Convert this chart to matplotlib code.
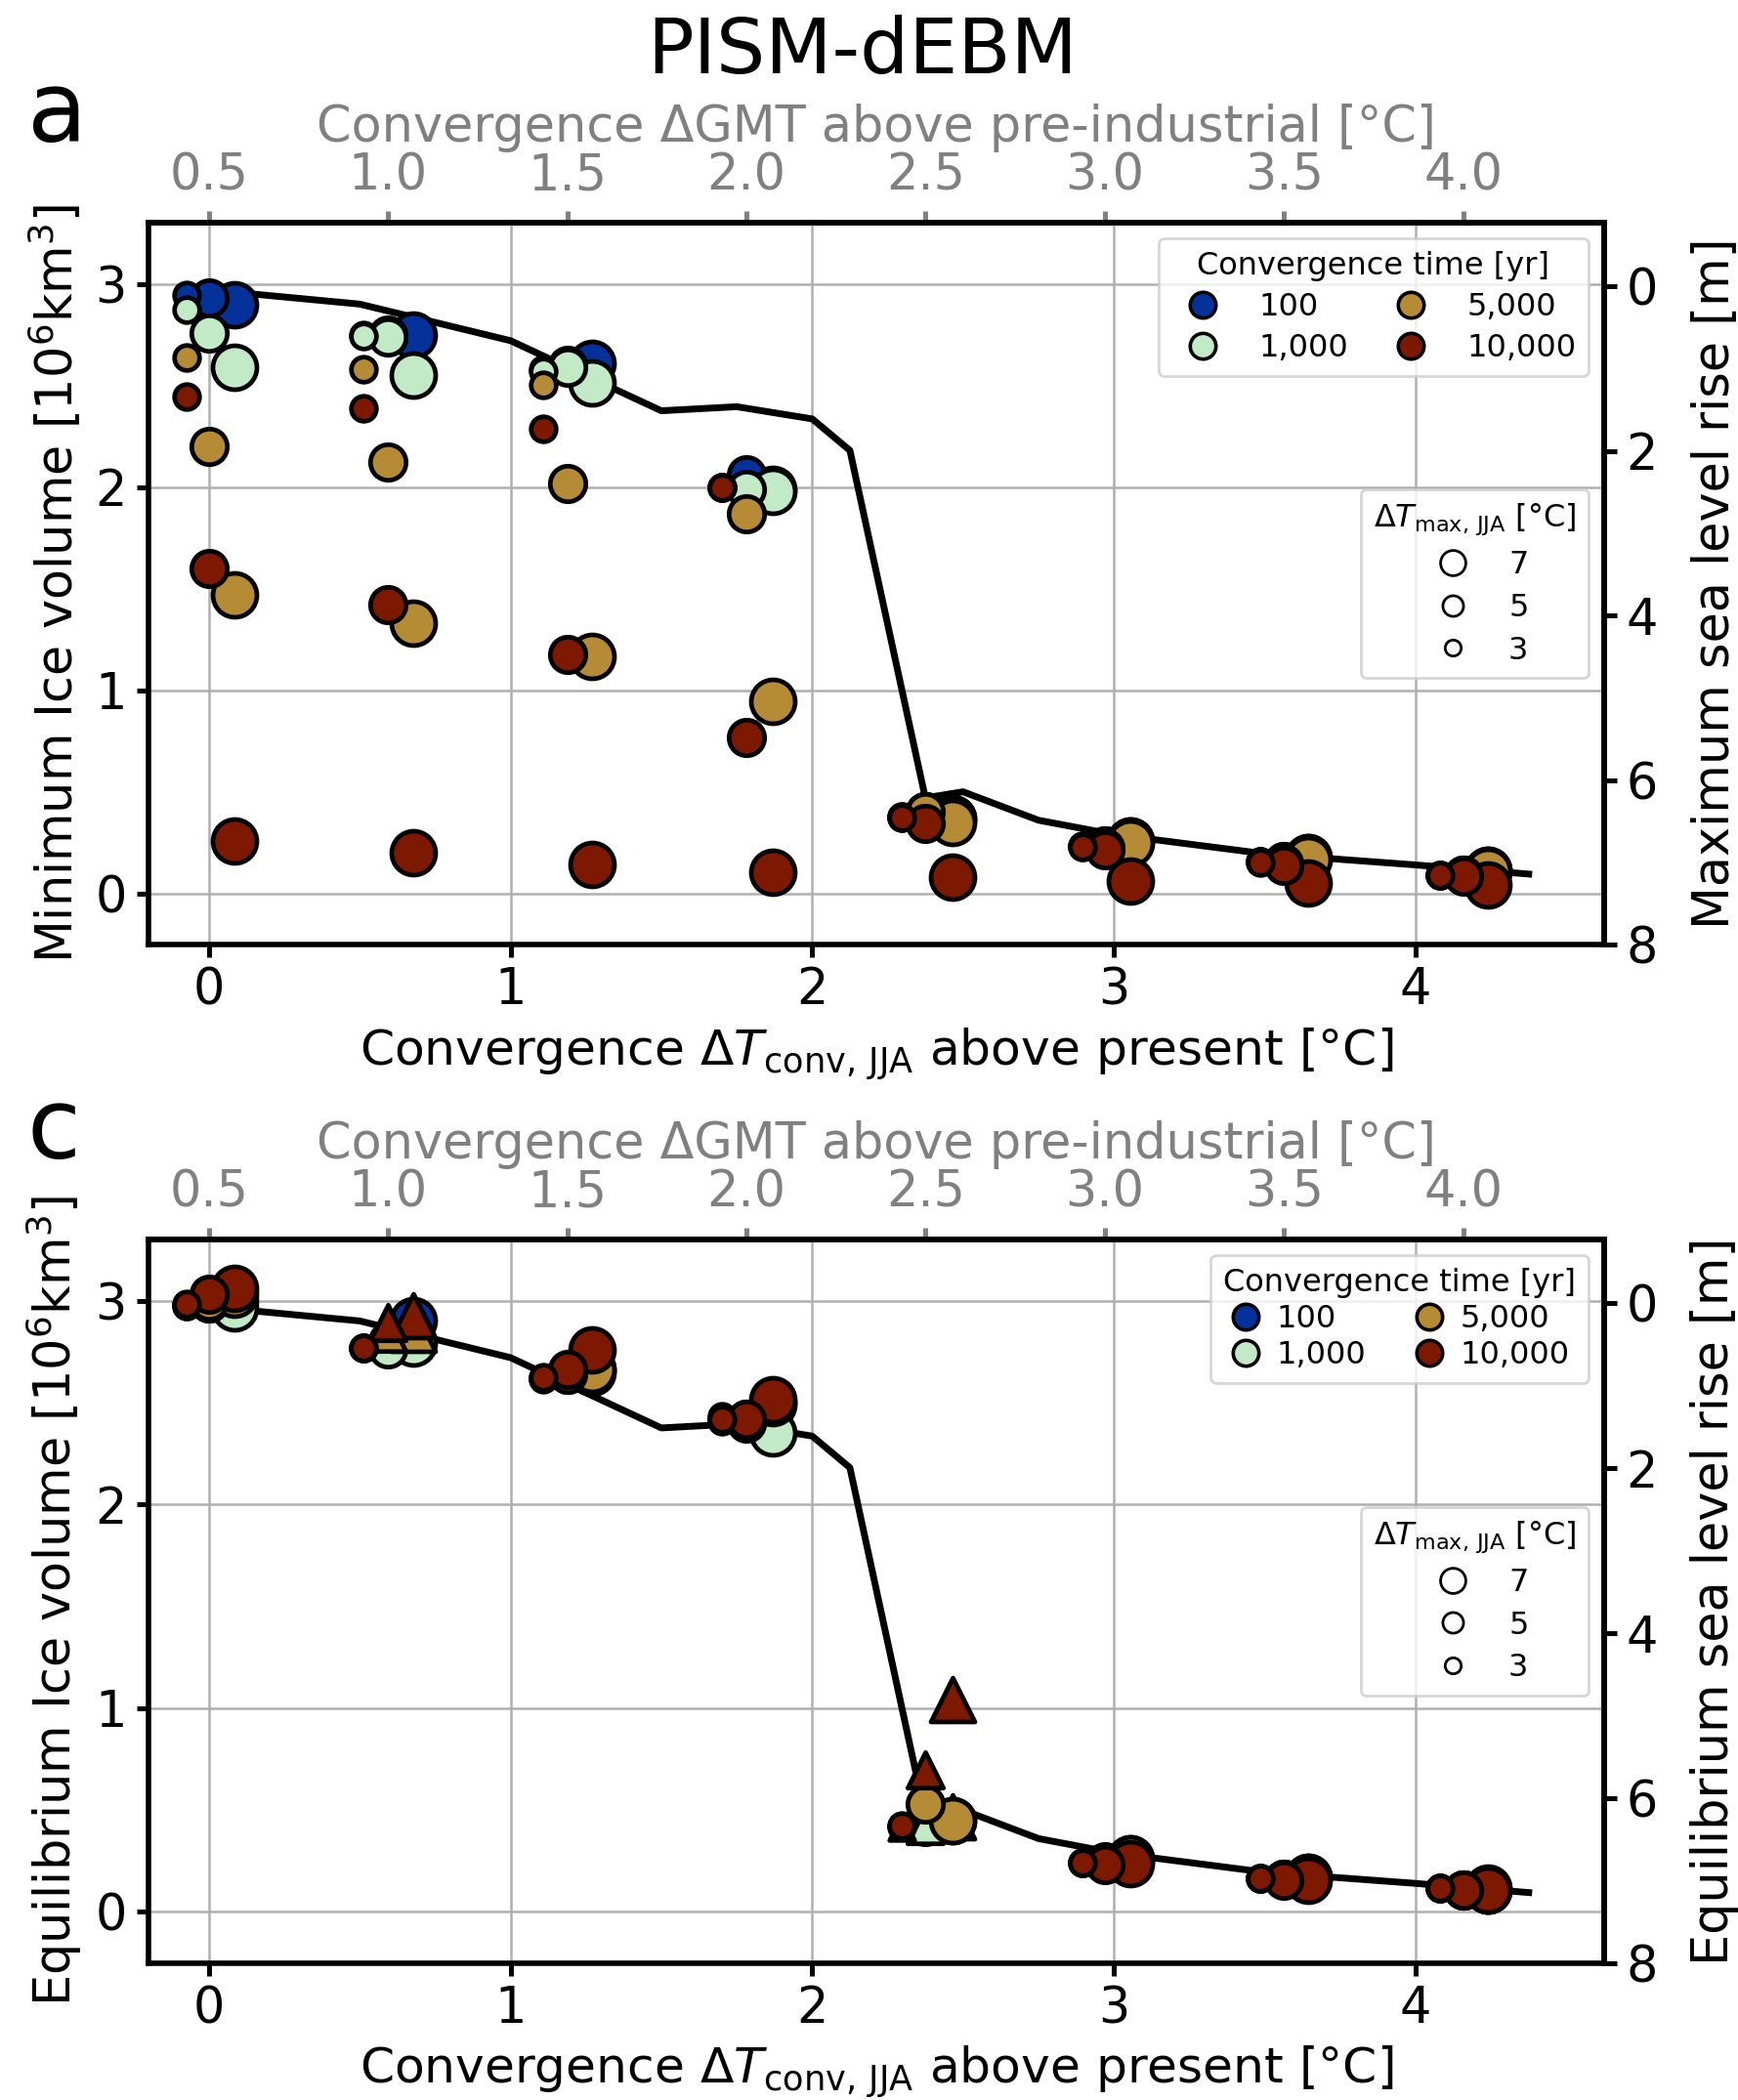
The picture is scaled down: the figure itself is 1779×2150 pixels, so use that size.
import matplotlib
matplotlib.use('Agg')
import matplotlib.pyplot as plt
from matplotlib.lines import Line2D

# convergence times (colour) and peak warming classes (marker size)
conv_times = ['100', '1,000', '5,000', '10,000']
conv_colors = ['#05319b', '#c2eac7', '#b58c35', '#7d1900']
dtmax_vals = [3, 5, 7]
dtmax_sizes = [85, 172, 262]

# x positions (convergence dT_conv,JJA) for dTmax = 3, 5, 7
x_dt3 = [-0.075, 0.513, 1.11, 1.70, 2.297, 2.895, 3.485, 4.08]
x_dt5 = [0.0, 0.594, 1.188, 1.782, 2.376, 2.97, 3.564, 4.158]
x_dt7 = [0.085, 0.677, 1.27, 1.868, 2.465, 3.055, 3.645, 4.238]

# panel a: minimum ice volume [10^6 km^3], rows dTmax = 3, 5, 7
min_100 = [[2.947, 2.75, 2.58, 2.00, 0.38, 0.235, 0.155, 0.092],
           [2.93, 2.75, 2.60, 2.058, 0.40, 0.235, 0.155, 0.092],
           [2.899, 2.747, 2.61, 1.99, 0.37, 0.26, 0.175, 0.115]]
min_1000 = [[2.875, 2.742, 2.571, 2.00, 0.38, 0.235, 0.155, 0.092],
            [2.758, 2.739, 2.59, 1.986, 0.40, 0.235, 0.155, 0.092],
            [2.587, 2.551, 2.514, 1.981, 0.37, 0.26, 0.175, 0.115]]
min_5000 = [[2.635, 2.579, 2.503, 2.00, 0.375, 0.23, 0.155, 0.09],
            [2.199, 2.122, 2.018, 1.869, 0.40, 0.225, 0.145, 0.09],
            [1.470, 1.329, 1.168, 0.947, 0.351, 0.247, 0.167, 0.11]]
min_10000 = [[2.446, 2.386, 2.286, 2.00, 0.372, 0.228, 0.154, 0.09],
             [1.601, 1.422, 1.176, 0.768, 0.343, 0.215, 0.138, 0.087],
             [0.258, 0.199, 0.143, 0.103, 0.079, 0.0625, 0.051, 0.042]]

# panel c: equilibrium ice volume [10^6 km^3], rows dTmax = 3, 5, 7
eq_100 = [[2.975, 2.77, 2.615, 2.43, 0.42, 0.24, 0.165, 0.115],
          [2.99, 2.80, 2.643, 2.42, 0.42, 0.24, 0.16, 0.11],
          [3.0, 2.90, 2.66, 2.49, 0.45, 0.26, 0.17, 0.11]]
eq_1000 = [[2.975, 2.77, 2.62, 2.42, 0.415, 0.24, 0.165, 0.115],
           [2.99, 2.765, 2.64, 2.41, 0.424, 0.24, 0.16, 0.11],
           [2.965, 2.79, 2.65, 2.352, 0.466, 0.25, 0.165, 0.11]]
eq_5000 = [[2.98, 2.77, 2.62, 2.41, 0.42, 0.24, 0.165, 0.115],
           [3.0, 2.84, 2.64, 2.40, 0.53, 0.245, 0.16, 0.11],
           [3.03, 2.86, 2.664, 2.50, 0.45, 0.26, 0.17, 0.115]]
eq_10000 = [[2.983, 2.768, 2.624, 2.42, 0.426, 0.242, 0.165, 0.115],
            [3.032, 2.893, 2.664, 2.416, 0.698, 0.234, 0.154, 0.107],
            [3.06, 2.925, 2.76, 2.512, 1.042, 0.239, 0.154, 0.107]]

# marker shapes ('^' = not equilibrated)
all_circles = ['oooooooo', 'oooooooo', 'oooooooo']
eq_mk_100 = ['oooooooo', 'oooooooo', 'oooooooo']
eq_mk_1000 = ['oooo^ooo', 'oooo^ooo', 'oooo^ooo']
eq_mk_5000 = ['oooooooo', 'o^oooooo', 'o^oooooo']
eq_mk_10000 = ['oooooooo', 'o^oo^ooo', 'o^oo^ooo']

# equilibrium curve
line_dt = [0.0, 0.5, 1.0, 1.5, 1.75, 2.0, 2.125, 2.375, 2.5, 2.75, 3.0, 3.5, 4.0, 4.375]
line_vol = [2.97, 2.90, 2.72, 2.375, 2.395, 2.335, 2.18, 0.47, 0.50, 0.36, 0.29, 0.195, 0.14, 0.095]

gmt_ticks = [0.5, 1.0, 1.5, 2.0, 2.5, 3.0, 3.5, 4.0]
DT_PER_GMT = 1.188
V0, M_PER_VOL = 2.987, 2.47

plt.rcParams['font.size'] = 18.3
plt.rcParams['axes.linewidth'] = 2


def draw_panel(ax, vols, marks, ylab, ylab_r, leg_kw):
    xs = [x_dt3, x_dt5, x_dt7]
    ax.plot(line_dt, line_vol, color='k', lw=2.5, zorder=2)
    for c, col in enumerate(conv_colors):
        for k in (2, 1, 0):
            for mk in ('o', '^'):
                px = [xs[k][i] for i in range(8) if marks[c][k][i] == mk]
                py = [vols[c][k][i] for i in range(8) if marks[c][k][i] == mk]
                if px:
                    ax.scatter(px, py, s=dtmax_sizes[k], c=col, marker=mk,
                               edgecolors='k', linewidths=1.7, zorder=3)
    ax.set_xlim(-0.2, 4.625)
    ax.set_ylim(-0.252, 3.3)
    ax.set_xticks([0, 1, 2, 3, 4])
    ax.set_yticks([0, 1, 2, 3])
    ax.set_axisbelow(True)
    ax.grid(True, color='#b0b0b0', lw=0.9)
    ax.tick_params(width=1.8, length=4.5)
    ax.set_xlabel(r'Convergence $\Delta T_{\mathrm{conv,\,JJA}}$ above present [°C]',
                  fontsize=18.1)
    ax.set_ylabel(ylab)

    sec = ax.secondary_yaxis('right', functions=(lambda v: (V0 - v) * M_PER_VOL,
                                                 lambda s: V0 - s / M_PER_VOL))
    sec.set_yticks([0, 2, 4, 6, 8])
    sec.tick_params(width=1.8, length=4.5)
    sec.set_ylabel(ylab_r, labelpad=12)

    top = ax.secondary_xaxis('top', functions=(lambda x: x / DT_PER_GMT + 0.5,
                                               lambda g: (g - 0.5) * DT_PER_GMT))
    top.set_xticks(gmt_ticks)
    top.set_xticklabels([f'{g:.1f}' for g in gmt_ticks])
    top.tick_params(colors='gray', width=1.8, length=4.5)
    top.set_xlabel('Convergence ΔGMT above pre-industrial [°C]', color='gray')

    h1 = [Line2D([], [], ls='', marker='o', mfc=col, mec='k', ms=9.5, mew=1.3)
          for col in conv_colors]
    leg1 = ax.legend(h1, conv_times, title='Convergence time [yr]', ncol=2,
                     loc='upper right', fontsize=11.5, title_fontsize=11.5, **leg_kw)
    ax.add_artist(leg1)
    h2 = [Line2D([], [], ls='', marker='o', mfc='white', mec='k', ms=m, mew=1.0)
          for m in (9.3, 7.6, 5.9)]
    ax.legend(h2, [str(v) for v in dtmax_vals[::-1]],
              title=r'$\Delta T_{\mathrm{max,\,JJA}}$ [°C]', loc='center right',
              fontsize=11.5, title_fontsize=11.5, labelspacing=0.4)


fig = plt.figure(figsize=(8.895, 10.75), dpi=200)
ax_a = fig.add_axes([0.0854, 0.5502, 0.8376, 0.3437])
ax_c = fig.add_axes([0.0854, 0.0651, 0.8376, 0.3447])

draw_panel(ax_a, [min_100, min_1000, min_5000, min_10000], [all_circles] * 4,
           r'Minimum Ice volume [10$^6$km$^3$]', 'Maximum sea level rise [m]',
           dict(labelspacing=0.35, columnspacing=1.0))
draw_panel(ax_c, [eq_100, eq_1000, eq_5000, eq_10000],
           [eq_mk_100, eq_mk_1000, eq_mk_5000, eq_mk_10000],
           r'Equilibrium Ice volume [10$^6$km$^3$]', 'Equilibrium sea level rise [m]',
           dict(labelspacing=0.2, columnspacing=1.5, handlelength=1.0,
                handletextpad=0.5))

fig.text(0.496, 0.9651, 'PISM-dEBM', ha='center', va='baseline', fontsize=28.5)
fig.text(0.0157, 0.9326, 'a', va='baseline', fontsize=36)
fig.text(0.0157, 0.4484, 'c', va='baseline', fontsize=36)

fig.savefig('out.png', dpi=200)
